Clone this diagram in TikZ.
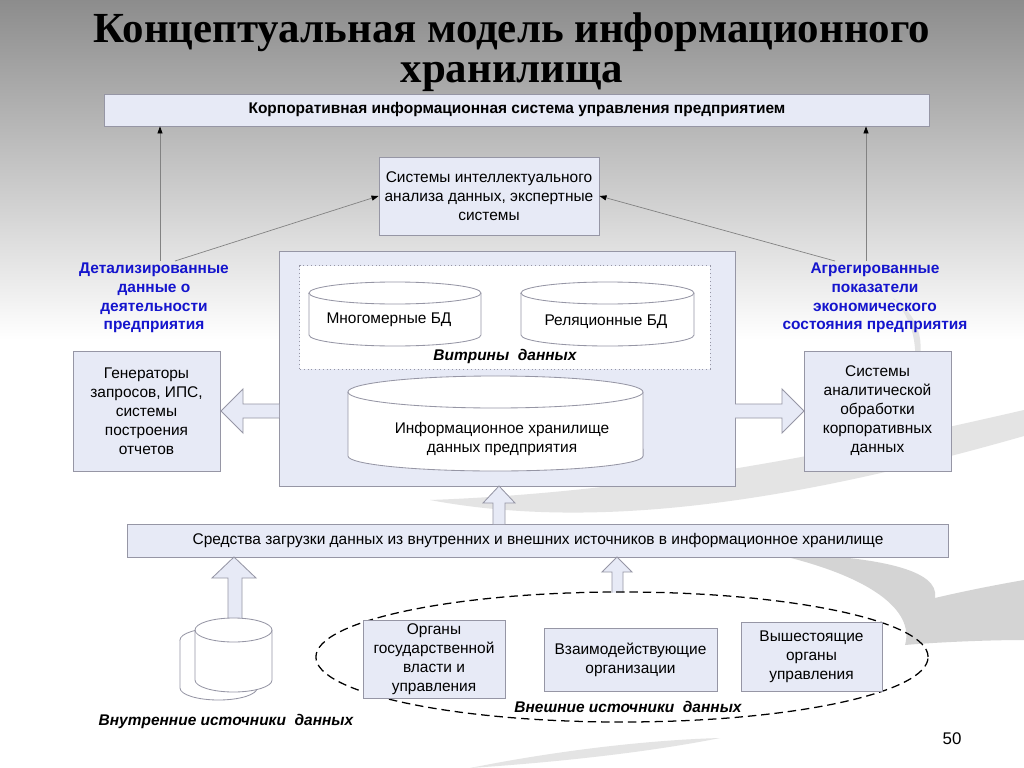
\documentclass[tikz,border=0pt]{standalone}
\usepackage{fontspec}
\setmainfont{Liberation Sans}
\newfontfamily\titlefont{Liberation Serif}
\usetikzlibrary{arrows.meta,calc}
\definecolor{boxfill}{RGB}{231,234,246}
\definecolor{boxline}{RGB}{150,150,165}
\definecolor{lblblue}{RGB}{20,20,205}
\definecolor{swoosh}{RGB}{212,212,212}
\definecolor{swooshlight}{RGB}{228,228,228}
\definecolor{thinline}{RGB}{130,130,130}
\begin{document}
\begin{tikzpicture}[x=0.025cm,y=-0.025cm,
  bodyfont/.style={font=\fontsize{11}{13.5}\selectfont},
  box/.style={draw=boxline,fill=boxfill,line width=0.6pt,align=center,inner sep=0pt,bodyfont},
  txt/.style={align=center,inner sep=0pt,bodyfont},
  bluelbl/.style={align=center,inner sep=0pt,text=lblblue,font=\bfseries\fontsize{11}{13.3}\selectfont},
  bilbl/.style={inner sep=0pt,font=\bfseries\itshape\fontsize{11}{13.3}\selectfont},
  cyl/.style={draw=boxline,fill=white,line width=0.6pt},
  blockarrow/.style={draw=boxline,fill=boxfill,line width=0.6pt,line join=miter},
  thinarrow/.style={draw=thinline,line width=0.5pt,-{Triangle[length=5pt,width=3.6pt,color=black]}},
  swooshfill/.style={fill=swoosh}
]
\useasboundingbox (0,0) rectangle (1024,768);
% background
\shade[top color=black!45,bottom color=white] (0,0) rectangle (1024,340);
\fill[white] (0,340) rectangle (1024,768);
% decorative swooshes
\path[fill=swooshlight] (430,500) .. controls (600,532) and (800,500) .. (1024,436) -- (1024,410) .. controls (850,450) and (650,492) .. (430,500) -- cycle;
\path[fill=swooshlight] (893,298) .. controls (922,318) and (928,348) .. (912,385) .. controls (920,346) and (913,320) .. (893,298) -- cycle;
\path[swooshfill] (770,553) .. controls (880,556) and (940,570) .. (935,598) .. controls (960,592) and (995,585) .. (1024,580) -- (1024,640) .. controls (990,640) and (940,642) .. (905,645) .. controls (915,610) and (870,575) .. (770,553) -- cycle;
\path[fill=swooshlight] (470,768) .. controls (560,750) and (650,740) .. (720,738) .. controls (650,752) and (560,762) .. (470,768) -- cycle;

% title
\node[align=center,inner sep=0pt,font=\titlefont\bfseries\fontsize{30.5}{28.4}\selectfont] (title) at (512,52)
  {Концептуальная модель информационного\\хранилища};

% top box
\node[box,minimum width=20.6cm,minimum height=0.8cm,font=\bfseries\fontsize{11}{13.5}\selectfont] (top) at (517,110)
  {Корпоративная информационная система управления предприятием};

% intelligent analysis box
\node[box,minimum width=5.5cm,minimum height=1.95cm] (ai) at (489,196)
  {Системы интеллектуального\\анализа данных, экспертные\\системы};

% blue labels
\node[bluelbl] (lblL) at (154,298) {Детализированные\\данные о\\деятельности\\предприятия};
\node[bluelbl] (lblR) at (875,298) {Агрегированные\\показатели\\экономического\\состояния предприятия};

% thin arrows
\coordinate (la) at (160,261);
\coordinate (lb) at (175,261);
\coordinate (ra) at (866,261);
\coordinate (rb) at (835,261);
\draw[thinarrow] (la) -- (la |- top.south);
\draw[thinarrow] (ra) -- (ra |- top.south);
\draw[thinarrow] (lb) -- (ai.west);
\draw[thinarrow] (rb) -- (ai.east);

% big box
\node[box,minimum width=11.4cm,minimum height=5.875cm] (big) at (507,368.5) {};
\node[draw=boxline,fill=white,dotted,line width=0.7pt,minimum width=10.25cm,minimum height=2.575cm,inner sep=0pt] (vitr) at (505,317.5) {};

% cylinders in data marts
\path[cyl] (309,293) -- (309,335) arc[start angle=180,end angle=360,x radius=2.15cm,y radius=0.275cm] -- (481,293) arc[start angle=0,end angle=180,x radius=2.15cm,y radius=0.275cm] -- cycle;
\draw[boxline,line width=0.6pt] (309,293) arc[start angle=180,end angle=360,x radius=2.15cm,y radius=0.275cm];
\path[cyl] (521,293) -- (521,335) arc[start angle=180,end angle=360,x radius=2.1625cm,y radius=0.275cm] -- (694,293) arc[start angle=0,end angle=180,x radius=2.1625cm,y radius=0.275cm] -- cycle;
\draw[boxline,line width=0.6pt] (521,293) arc[start angle=180,end angle=360,x radius=2.1625cm,y radius=0.275cm];
\node[txt] (mdb) at (389,320) {Многомерные БД};
\node[txt] (rdb) at (606,322) {Реляционные БД};
\node[bilbl] (vitrlbl) at (505,356) {Витрины\ \ данных};

% warehouse cylinder
\path[cyl] (348,392) -- (348,456) arc[start angle=180,end angle=360,x radius=3.6875cm,y radius=0.375cm] -- (643,392) arc[start angle=0,end angle=180,x radius=3.6875cm,y radius=0.4cm] -- cycle;
\draw[boxline,line width=0.6pt] (348,392) arc[start angle=180,end angle=360,x radius=3.6875cm,y radius=0.4cm];
\node[txt] (wh) at (502,439) {Информационное хранилище\\данных предприятия};

% side boxes
\node[box,minimum width=3.675cm,minimum height=3cm] (gen) at (146.5,411)
  {Генераторы\\запросов, ИПС,\\системы\\построения\\отчетов};
\node[box,minimum width=3.675cm,minimum height=3cm] (olap) at (877.5,411)
  {Системы\\аналитической\\обработки\\корпоративных\\данных};

% side block arrows
\path[blockarrow] (279,404) -- (243,404) -- (243,389) -- (221,411) -- (243,433) -- (243,418) -- (279,418);
\path[blockarrow] (735,404) -- (782,404) -- (782,389) -- (804,411) -- (782,433) -- (782,418) -- (735,418);

% load bar
\node[box,minimum width=20.5cm,minimum height=0.825cm] (load) at (538,540.5)
  {Средства загрузки данных из внутренних и внешних источников в информационное хранилище};

% up arrow load -> big
\path[blockarrow] (493,524) -- (493,503) -- (483,503) -- (499,486) -- (515,503) -- (505,503) -- (505,524);

% up arrows sources -> load
\path[blockarrow] (228,622) -- (228,578) -- (212,578) -- (234,557) -- (256,578) -- (242,578) -- (242,622);
\path[blockarrow] (612,592.5) -- (612,572) -- (602,572) -- (617,557) -- (632,572) -- (623,572) -- (623,592.5);

% internal source cylinders
\path[cyl] (180,640) -- (180,688) arc[start angle=180,end angle=360,x radius=0.9625cm,y radius=0.3cm] -- (257,640) arc[start angle=0,end angle=180,x radius=0.9625cm,y radius=0.3cm] -- cycle;
\path[cyl] (195,630) -- (195,680) arc[start angle=180,end angle=360,x radius=0.9625cm,y radius=0.3cm] -- (272,630) arc[start angle=0,end angle=180,x radius=0.9625cm,y radius=0.3cm] -- cycle;
\draw[boxline,line width=0.6pt] (195,630) arc[start angle=180,end angle=360,x radius=0.9625cm,y radius=0.3cm];
\node[bilbl] (intlbl) at (226,721) {Внутренние источники\ \ данных};

% external sources
\draw[black,line width=0.9pt,dash pattern=on 6pt off 3.5pt] (622,657) ellipse[x radius=7.65cm,y radius=1.625cm];
\node[box,minimum width=3.55cm,minimum height=1.95cm] (org1) at (434,659)
  {Органы\\государственной\\власти и\\управления};
\node[box,minimum width=4.325cm,minimum height=1.575cm] (org2) at (630.5,659.5)
  {Взаимодействующие\\организации};
\node[box,minimum width=3.525cm,minimum height=1.725cm] (org3) at (811.5,656.5)
  {Вышестоящие\\органы\\управления};
\node[bilbl] (extlbl) at (628,707) {Внешние источники\ \ данных};

% page number
\node[inner sep=0pt,font=\fontsize{12}{14}\selectfont] (pnum) at (952,739) {50};
\end{tikzpicture}
\end{document}
